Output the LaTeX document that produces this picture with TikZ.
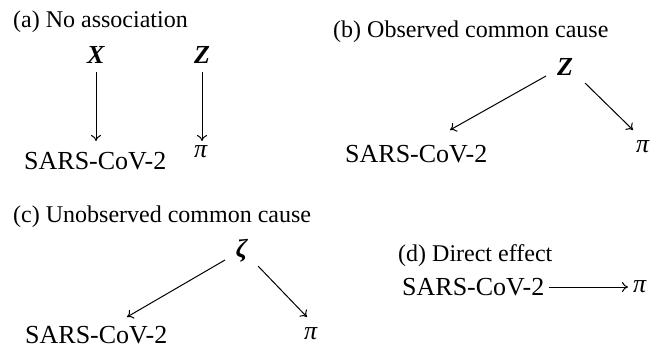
\documentclass[tikz,border=0pt]{standalone}
\usepackage{fontspec}
\setmainfont{Liberation Serif}
\usetikzlibrary{arrows.meta,calc}
\begin{document}
\begin{tikzpicture}[x=1pt,y=-1pt,
  lbl/.style={inner sep=0pt, font=\fontsize{26}{30}\selectfont},
  ttl/.style={inner sep=0pt, anchor=base west, font=\fontsize{24}{28}\selectfont},
  arr/.style={-{To[length=6pt,width=10pt]}, line width=1pt}]
\useasboundingbox (0,0) rectangle (671,349);
% (a)
\node[ttl] (Ta) at (13,27) {(a) No association};
\node[lbl,anchor=base] (Xa) at (96,63) {\textbf{\textit{X}}};
\node[lbl,anchor=base] (Za) at (202,63) {\textbf{\textit{Z}}};
\node[lbl,anchor=base west] (Sa) at (24,169) {SARS-CoV-2};
\node[lbl,anchor=base] (Pa) at (201,157) {\textit{π}};
\draw[arr] ($(Xa.base)+(0,9)$) -- ($(Xa.base |- Sa.base)+(0,-28)$);
\draw[arr] ($(Za.base)+(0,9)$) -- ($(Za.base |- Pa.base)+(0,-16)$);
% (b)
\node[ttl] (Tb) at (333,37) {(b) Observed common cause};
\node[lbl,anchor=base] (Zb) at (565,75) {\textbf{\textit{Z}}};
\node[lbl,anchor=base west] (Sb) at (345,162) {SARS-CoV-2};
\node[lbl,anchor=base] (Pb) at (643,152) {\textit{π}};
\draw[arr] ($(Zb.base)+(-19,1)$) -- ($(Sb.base west)+(105,-32)$);
\draw[arr] ($(Zb.base)+(20,8)$) -- ($(Pb.base)+(-10,-22)$);
% (c)
\node[ttl] (Tc) at (13,222) {(c) Unobserved common cause};
\node[lbl,anchor=base] (Zc) at (242,257) {\textbf{\textit{ζ}}};
\node[lbl,anchor=base west] (Sc) at (25,343) {SARS-CoV-2};
\node[lbl,anchor=base] (Pc) at (311,339) {\textit{π}};
\draw[arr] ($(Zc.base)+(-17,3)$) -- ($(Sc.base west)+(102,-26)$);
\draw[arr] ($(Zc.base)+(16,9)$) -- ($(Pc.base)+(-4,-22)$);
% (d)
\node[ttl] (Td) at (398,261) {(d) Direct effect};
\node[lbl,anchor=base west] (Sd) at (402,295) {SARS-CoV-2};
\node[lbl,anchor=base] (Pd) at (640,292) {\textit{π}};
\draw[arr] ($(Sd.base east)+(5,-8)$) -- ($(Pd.base west)+(-5,-5)$);
\end{tikzpicture}
\end{document}
